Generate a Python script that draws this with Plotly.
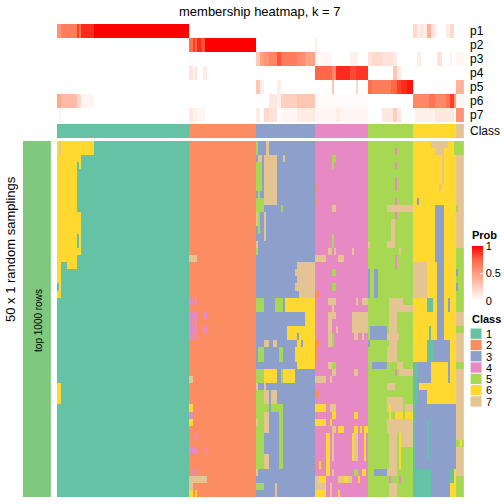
import numpy as np
import plotly.graph_objects as go

W = H = 504
FONT = "Liberation Sans, Arial, Helvetica, sans-serif"

# ---------------- data ----------------
class_labels = ["1", "2", "3", "4", "5", "6", "7"]
class_colors = ["#66C2A5", "#FC8D62", "#8DA0CB", "#E78AC3", "#A6D854", "#FFD92F", "#E5C494"]
class_sizes = [65, 33, 29, 26, 22, 21, 4]          # number of samples in each class
prob_names = ["p1", "p2", "p3", "p4", "p5", "p6", "p7"]
n_samplings = 50

# membership probabilities: (first col, last col, value), everything else 0
prob_segments = {
    "p1": [(0, 1, 0.55), (2, 9, 0.65), (10, 10, 0.85), (11, 11, 0.7), (12, 17, 0.9), (18, 64, 1.0),
           (175, 176, 0.2), (177, 178, 0.1), (179, 179, 0.15), (180, 181, 0.1), (182, 183, 0.4),
           (184, 185, 0.15), (186, 186, 0.05), (191, 192, 0.1), (193, 194, 0.2)],
    "p2": [(65, 66, 0.7), (67, 67, 0.85), (68, 68, 0.75), (69, 70, 0.9), (71, 72, 0.8), (73, 97, 1.0),
           (127, 127, 0.1)],
    "p3": [(65, 66, 0.02), (98, 99, 0.28), (100, 101, 0.5), (102, 103, 0.55), (104, 107, 0.62),
           (108, 109, 0.8), (110, 117, 0.65), (118, 121, 0.58), (122, 126, 0.48),
           (127, 134, 0.04), (144, 147, 0.08), (153, 154, 0.15), (155, 159, 0.2), (160, 164, 0.15),
           (165, 166, 0.1), (177, 178, 0.1), (187, 188, 0.15), (193, 193, 0.08), (196, 199, 0.05)],
    "p4": [(65, 66, 0.15), (67, 67, 0.05), (68, 68, 0.15), (72, 73, 0.1),
           (127, 134, 0.75), (135, 136, 0.6), (137, 143, 0.9), (144, 146, 0.82), (147, 152, 0.87),
           (165, 166, 0.3), (167, 168, 0.12)],
    "p5": [(98, 99, 0.3), (100, 101, 0.08), (108, 109, 0.1), (135, 135, 0.3), (147, 147, 0.2),
           (153, 154, 0.72), (155, 163, 0.65), (164, 166, 0.75), (167, 168, 0.85), (169, 171, 0.9),
           (172, 174, 0.95), (196, 199, 0.4)],
    "p6": [(0, 1, 0.45), (2, 9, 0.35), (10, 11, 0.2), (12, 17, 0.05), (104, 107, 0.12),
           (108, 109, 0.08), (110, 117, 0.25), (118, 126, 0.3), (127, 152, 0.02),
           (175, 182, 0.6), (183, 185, 0.7), (186, 190, 0.6), (191, 192, 0.7), (193, 194, 0.85),
           (195, 195, 0.5), (196, 199, 0.05)],
    "p7": [(1, 1, 0.05), (65, 66, 0.12), (67, 68, 0.07), (69, 72, 0.04), (98, 99, 0.1),
           (102, 103, 0.2), (104, 107, 0.15), (110, 117, 0.05), (118, 126, 0.1), (127, 152, 0.05),
           (137, 138, 0.1), (160, 164, 0.12), (165, 166, 0.25), (167, 168, 0.12),
           (176, 185, 0.08), (186, 194, 0.12), (196, 199, 0.55)],
}

# predicted class in each random sampling that differs from the consensus class:
# (first row, last row, first col, last col, class)
sampling_changes = [
    # class 1 samples
    (0, 1, 0, 17, 6), (0, 1, 1, 1, 7), (2, 3, 0, 11, 6), (3, 3, 10, 10, 1), (4, 9, 0, 9, 6),
    (10, 15, 0, 11, 6), (13, 14, 10, 10, 1), (16, 16, 0, 9, 6), (17, 17, 0, 1, 6), (17, 17, 5, 9, 6),
    (18, 21, 0, 1, 6), (20, 20, 0, 0, 1), (34, 36, 0, 1, 6),
    # class 2 samples
    (16, 16, 65, 68, 7), (22, 22, 65, 66, 4), (22, 22, 68, 68, 4), (24, 24, 65, 68, 4), (24, 24, 72, 73, 4),
    (25, 25, 65, 66, 4), (25, 25, 68, 68, 4), (26, 26, 65, 68, 4), (26, 26, 72, 73, 4),
    (27, 27, 65, 66, 4), (27, 27, 68, 68, 4), (33, 33, 65, 66, 7), (37, 37, 65, 66, 6),
    (38, 38, 65, 66, 4), (39, 39, 65, 66, 6), (41, 41, 68, 68, 4), (43, 43, 65, 68, 4), (43, 43, 73, 73, 4),
    (46, 46, 66, 66, 4), (46, 46, 68, 68, 4), (47, 47, 65, 73, 7), (48, 48, 65, 66, 7),
    (49, 49, 65, 66, 6), (49, 49, 68, 68, 6),
    # class 3 samples
    (0, 1, 98, 98, 5), (0, 1, 103, 103, 7), (2, 2, 99, 100, 7), (2, 2, 111, 111, 7), (2, 8, 102, 107, 7),
    (3, 6, 98, 100, 5), (7, 7, 99, 99, 5), (8, 9, 98, 101, 5), (9, 9, 110, 110, 5),
    (10, 11, 98, 98, 7), (10, 11, 99, 99, 5), (10, 13, 102, 102, 7), (12, 12, 99, 99, 5),
    (14, 14, 98, 98, 7), (15, 15, 98, 98, 5),
    (17, 17, 118, 126, 7), (18, 18, 117, 126, 7), (19, 19, 118, 126, 7), (20, 20, 117, 126, 7),
    (21, 21, 119, 126, 7), (22, 23, 98, 101, 5), (22, 23, 107, 110, 5), (22, 23, 112, 126, 6),
    (24, 25, 122, 126, 6), (26, 26, 113, 126, 6), (27, 27, 113, 117, 6), (27, 27, 119, 126, 6),
    (28, 28, 102, 103, 7), (28, 28, 106, 107, 7), (28, 28, 118, 119, 6), (28, 28, 121, 126, 6),
    (29, 30, 99, 101, 5), (29, 30, 109, 110, 5), (29, 30, 117, 126, 6), (31, 31, 118, 126, 6),
    (32, 33, 98, 101, 5), (32, 33, 102, 107, 6), (32, 33, 110, 110, 5), (32, 33, 111, 116, 6),
    (34, 34, 98, 98, 7), (34, 34, 102, 102, 7), (35, 36, 98, 101, 5), (35, 36, 102, 103, 7),
    (35, 36, 105, 107, 7), (37, 37, 98, 103, 5), (37, 37, 105, 110, 5), (38, 40, 98, 101, 5),
    (38, 40, 102, 103, 7), (38, 40, 109, 110, 5), (39, 39, 98, 98, 7), (41, 43, 98, 101, 5),
    (41, 43, 109, 110, 5), (44, 45, 98, 101, 5), (44, 45, 102, 103, 7), (44, 45, 109, 110, 5),
    (46, 46, 98, 98, 7), (48, 48, 98, 101, 5), (48, 49, 107, 107, 7),
    # class 4 samples
    (2, 2, 135, 136, 5), (3, 3, 135, 135, 5), (6, 6, 127, 127, 2), (8, 8, 127, 127, 2),
    (9, 9, 135, 136, 7), (13, 14, 135, 135, 5), (15, 15, 133, 134, 7), (15, 15, 136, 136, 7),
    (15, 15, 145, 145, 7), (16, 16, 127, 131, 7), (16, 16, 138, 140, 7), (18, 18, 135, 136, 5),
    (20, 20, 135, 136, 5), (21, 21, 127, 128, 2), (22, 22, 133, 136, 7), (22, 22, 147, 147, 7),
    (22, 22, 150, 152, 7), (23, 23, 135, 135, 7), (24, 24, 133, 136, 7), (24, 24, 145, 152, 7),
    (25, 25, 133, 134, 7), (25, 25, 145, 152, 7), (26, 26, 133, 134, 7), (26, 26, 137, 137, 7),
    (26, 26, 145, 152, 7), (27, 27, 133, 134, 7), (27, 27, 135, 135, 5), (27, 27, 146, 147, 7),
    (27, 27, 150, 150, 7), (28, 28, 127, 128, 2), (28, 28, 133, 134, 7), (28, 28, 135, 135, 5),
    (29, 30, 127, 127, 2), (31, 31, 133, 134, 7), (31, 31, 135, 136, 5), (32, 32, 135, 136, 7),
    (32, 32, 146, 147, 7), (33, 33, 127, 131, 7), (33, 33, 134, 134, 7), (35, 35, 127, 128, 2),
    (37, 37, 127, 131, 6), (37, 37, 134, 136, 7), (38, 38, 135, 136, 6), (38, 38, 146, 147, 6),
    (39, 39, 127, 131, 6), (39, 39, 134, 134, 6), (40, 40, 135, 136, 7), (40, 40, 138, 140, 6),
    (40, 40, 146, 147, 6), (40, 40, 149, 149, 6), (40, 40, 151, 152, 6), (41, 44, 132, 133, 6),
    (41, 44, 135, 135, 7), (41, 44, 145, 145, 6), (41, 44, 146, 147, 7), (41, 44, 151, 151, 6),
    (45, 45, 127, 127, 2), (45, 45, 129, 129, 6), (45, 45, 132, 133, 6), (46, 46, 132, 133, 6),
    (46, 46, 135, 135, 7), (46, 46, 146, 147, 5), (46, 46, 150, 151, 6), (47, 47, 127, 128, 7),
    (47, 47, 129, 131, 6), (47, 47, 138, 140, 7), (47, 47, 141, 142, 6), (47, 47, 143, 144, 7),
    (47, 47, 148, 148, 6), (48, 48, 127, 131, 7), (48, 48, 134, 134, 7), (49, 49, 127, 131, 6),
    (49, 49, 134, 134, 7), (49, 49, 138, 138, 6),
    # class 5 samples
    (1, 1, 166, 166, 4), (3, 3, 166, 166, 4), (5, 6, 166, 166, 4), (8, 8, 166, 166, 4),
    (9, 9, 162, 174, 7), (10, 10, 166, 166, 4), (11, 13, 164, 165, 7), (14, 14, 153, 153, 7),
    (14, 14, 162, 165, 7), (15, 15, 168, 168, 7), (16, 17, 166, 166, 4), (18, 21, 153, 153, 3),
    (18, 21, 156, 157, 3), (22, 22, 163, 169, 7), (23, 23, 163, 174, 7), (24, 25, 163, 166, 7),
    (26, 27, 154, 161, 3), (26, 26, 163, 166, 7), (27, 27, 162, 167, 7), (28, 28, 153, 153, 3),
    (28, 28, 163, 166, 7), (29, 30, 162, 166, 7), (31, 31, 155, 161, 3), (31, 31, 167, 169, 7),
    (32, 32, 166, 166, 4), (32, 32, 168, 174, 7), (34, 34, 162, 165, 7), (36, 36, 162, 169, 7),
    (37, 37, 162, 169, 7), (37, 37, 163, 163, 6), (37, 37, 171, 174, 7), (38, 38, 163, 163, 6),
    (38, 38, 166, 169, 6), (38, 38, 171, 174, 6), (39, 40, 162, 174, 7), (41, 42, 163, 166, 7),
    (41, 42, 168, 168, 6), (41, 42, 169, 174, 7), (43, 45, 163, 166, 7), (43, 45, 168, 168, 6),
    (46, 46, 156, 161, 3), (46, 46, 162, 166, 7), (47, 47, 163, 163, 4), (47, 47, 168, 168, 4),
    (48, 49, 163, 166, 7),
    # class 6 samples
    (0, 0, 184, 191, 7), (1, 1, 186, 189, 7), (0, 1, 195, 195, 5), (2, 5, 189, 189, 7),
    (6, 6, 188, 188, 7), (8, 8, 177, 177, 3), (9, 16, 186, 189, 3), (17, 21, 175, 181, 7),
    (17, 21, 187, 189, 3), (22, 23, 182, 184, 1), (22, 23, 187, 189, 3), (22, 23, 192, 192, 3),
    (24, 25, 187, 189, 3), (26, 27, 183, 183, 1), (26, 27, 187, 189, 3), (28, 30, 182, 184, 1),
    (28, 30, 185, 192, 3), (31, 33, 175, 176, 1), (31, 33, 177, 183, 3), (31, 33, 192, 192, 3),
    (34, 34, 175, 176, 1), (34, 34, 177, 177, 3), (35, 36, 175, 176, 1), (35, 36, 177, 181, 3),
    (37, 45, 175, 175, 1), (37, 45, 176, 195, 3), (39, 44, 182, 182, 1), (46, 49, 175, 183, 1),
    (46, 49, 184, 192, 3), (46, 47, 193, 194, 1),
    # class 7 samples
    (0, 1, 196, 199, 5), (9, 9, 196, 196, 5), (15, 23, 196, 199, 5), (18, 18, 196, 196, 3),
    (20, 20, 196, 196, 3), (26, 26, 196, 199, 5), (31, 31, 196, 199, 5), (42, 42, 196, 199, 5),
    (42, 42, 198, 198, 6), (47, 49, 196, 199, 5),
]

# ---------------- build matrices ----------------
consensus = np.concatenate([[k + 1] * n for k, n in enumerate(class_sizes)])
n_cols = len(consensus)
membership = np.tile(consensus, (n_samplings, 1)).astype(float)
for r0, r1, c0, c1, cl in sampling_changes:
    membership[r0:r1 + 1, c0:c1 + 1] = cl

prob = np.zeros((len(prob_names), n_cols))
for i, name in enumerate(prob_names):
    for c0, c1, v in prob_segments[name]:
        prob[i, c0:c1 + 1] = v

# ---------------- helpers ----------------
def px(x):
    return x / W

def py(y):
    return 1 - y / H

nk = len(class_colors)
class_scale = []
for k, c in enumerate(class_colors):
    class_scale.append([k / nk, c])
    class_scale.append([(k + 1) / nk, c])

prob_scale = [[0, "#FFFFFF"], [0.25, "#FFCFBF"], [0.5, "#FF9E81"], [0.75, "#FF6746"], [1, "#FF0000"]]

X0, X1 = 57, 465
cols = list(range(n_cols))

fig = go.Figure()
# main membership heatmap
fig.add_trace(go.Heatmap(z=membership, x=cols, y=list(range(n_samplings)), colorscale=class_scale,
                         zmin=0.5, zmax=nk + 0.5, showscale=False, hoverinfo="skip",
                         xaxis="x", yaxis="y"))
# probability annotation
fig.add_trace(go.Heatmap(z=prob, x=cols, y=list(range(len(prob_names))), colorscale=prob_scale,
                         zmin=0, zmax=1, hoverinfo="skip", xaxis="x2", yaxis="y2",
                         colorbar=dict(x=px(472), xanchor="left", y=py(273.5), yanchor="middle",
                                       len=55, lenmode="pixels", thickness=11, thicknessmode="pixels",
                                       outlinewidth=0, xpad=0, ypad=0, tickvals=[0, 0.5, 1],
                                       ticktext=["0", "0.5", "1"], ticks="inside", ticklen=3,
                                       tickcolor="white", tickwidth=1,
                                       tickfont=dict(family=FONT, size=11, color="black"))))
# class annotation row
fig.add_trace(go.Heatmap(z=[consensus], x=cols, y=[0], colorscale=class_scale,
                         zmin=0.5, zmax=nk + 0.5, showscale=False, hoverinfo="skip",
                         xaxis="x3", yaxis="y3"))

ax = dict(visible=False, range=[-0.5, n_cols - 0.5], domain=[px(X0), px(X1)], fixedrange=True)
fig.update_layout(
    width=W, height=H, margin=dict(l=0, r=0, t=0, b=0),
    paper_bgcolor="white", plot_bgcolor="white", showlegend=False,
    xaxis=dict(ax, anchor="y"),
    yaxis=dict(visible=False, range=[n_samplings - 0.5, -0.5], domain=[py(497), py(141)], anchor="x"),
    xaxis2=dict(ax, anchor="y2"),
    yaxis2=dict(visible=False, range=[len(prob_names) - 0.5, -0.5], domain=[py(122), py(24)], anchor="x2"),
    xaxis3=dict(ax, anchor="y3"),
    yaxis3=dict(visible=False, range=[0.5, -0.5], domain=[py(138), py(124)], anchor="x3"),
)

shapes = []
annotations = []
# left sampling bar
shapes.append(dict(type="rect", xref="paper", yref="paper", x0=px(23), x1=px(51), y0=py(497), y1=py(141),
                   fillcolor="#7FC97F", line=dict(width=0), layer="below"))

def txt(x, y, s, size, xanchor="center", angle=0, bold=False):
    annotations.append(dict(xref="paper", yref="paper", x=px(x), y=py(y), text=f"<b>{s}</b>" if bold else s,
                            showarrow=False, xanchor=xanchor, yanchor="middle", textangle=angle,
                            font=dict(family=FONT, size=size, color="black")))

txt(261, 11, "membership heatmap, k = 7", 13)
txt(10, 249, "50 x 1 random samplings", 13, angle=-90)
txt(38, 320, "top 1000 rows", 10, angle=-90)
for i, name in enumerate(prob_names):
    txt(469, 31 + 14 * i, name, 12, xanchor="left")
txt(469, 131, "Class", 12, xanchor="left")

# legends
txt(471, 235, "Prob", 11, xanchor="left", bold=True)
txt(471, 319, "Class", 11, xanchor="left", bold=True)
for k, (lab, col) in enumerate(zip(class_labels, class_colors)):
    y0 = 328.5 + 11.3 * k
    shapes.append(dict(type="rect", xref="paper", yref="paper", x0=px(471.5), x1=px(482.5),
                       y0=py(y0 + 10.3), y1=py(y0), fillcolor=col, line=dict(width=0)))
    txt(485, y0 + 5.4, lab, 11, xanchor="left")

fig.update_layout(shapes=shapes, annotations=annotations)
fig.write_html("out.html", config={"displayModeBar": False},
               post_script="document.body.style.margin='0px';document.body.style.overflow='hidden';")
